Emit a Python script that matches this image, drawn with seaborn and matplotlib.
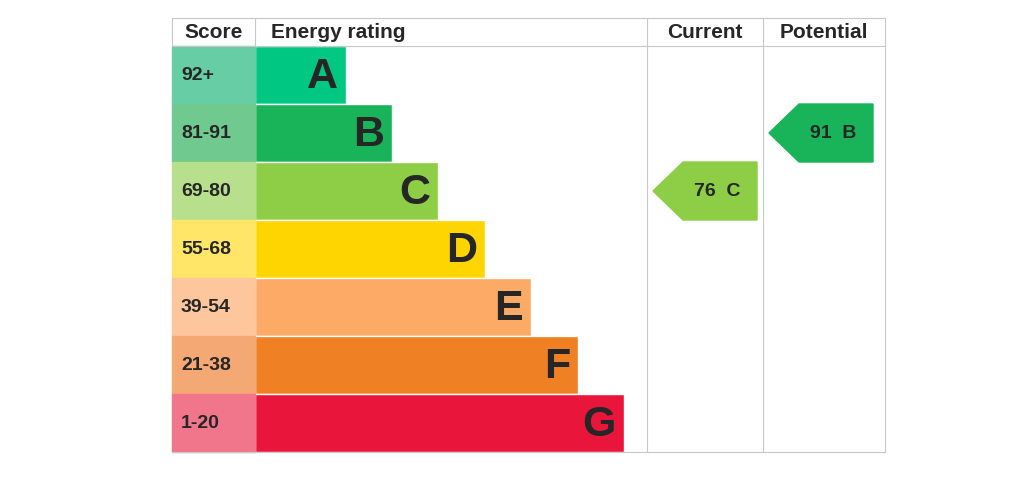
import matplotlib.pyplot as plt
from matplotlib.patches import Polygon, Rectangle
import seaborn as sns

sns.set_style("white")
plt.rcParams['font.family'] = ['Liberation Sans', 'DejaVu Sans']

bands = ["A", "B", "C", "D", "E", "F", "G"]
scores = ["92+", "81-91", "69-80", "55-68", "39-54", "21-38", "1-20"]
bar_colors = ["#00c781", "#19b459", "#8dce46", "#ffd500", "#fcaa65", "#ef8023", "#e9153b"]
score_colors = ["#66cda5", "#70c98e", "#b7df8c", "#ffe669", "#fdc69c", "#f4a874", "#f1768b"]
bar_len = [91, 137, 183, 230, 276, 323, 369]
current = (76, "C")
potential = (91, "B")

fig = plt.figure(figsize=(10.24, 4.82), dpi=100)
ax = fig.add_axes([0, 0, 1, 1])
ax.set_xlim(0, 1024)
ax.set_ylim(482, 0)
ax.axis("off")

top, head, rh = 18, 46, 58
x0, xs, xc, xp, xr = 172, 255, 647, 763, 885
bottom = head + rh * len(bands)
grey = "#c8c8c8"

ax.barh([head + rh * i + rh / 2 for i in range(7)], bar_len, height=rh, left=xs,
        color=bar_colors)
for i, (s, c) in enumerate(zip(scores, score_colors)):
    y = head + rh * i
    ax.add_patch(Rectangle((x0, y), xs - x0, rh, color=c))
    ax.text(x0 + 9, y + rh / 2, s, fontsize=14, fontweight="bold", va="center")
    ax.text(xs + bar_len[i] - 8, y + rh / 2 + 2, bands[i], fontsize=31,
            fontweight="bold", va="center", ha="right")

for x in [xc, xp, xr]:
    ax.plot([x, x], [top, bottom], color=grey, lw=0.8)
ax.plot([x0, xr], [top, top], color=grey, lw=0.8)
ax.plot([x0, xr], [head, head], color=grey, lw=0.8)
ax.plot([x0, xr], [bottom, bottom], color=grey, lw=0.8)
ax.plot([x0, x0], [top, head], color=grey, lw=0.8)
ax.plot([xs, xs], [top, head], color=grey, lw=0.8)

hy = (top + head) / 2 + 1
ax.text((x0 + xs) / 2, hy, "Score", fontsize=15, fontweight="bold", ha="center", va="center")
ax.text(xs + 16, hy, "Energy rating", fontsize=15, fontweight="bold", va="center")
ax.text((xc + xp) / 2, hy, "Current", fontsize=15, fontweight="bold", ha="center", va="center")
ax.text((xp + xr) / 2, hy, "Potential", fontsize=15, fontweight="bold", ha="center", va="center")


def arrow(xl, xrr, val, band):
    i = bands.index(band)
    y = head + rh * i
    pts = [(xl, y + rh / 2), (xl + 30, y), (xrr, y), (xrr, y + rh), (xl + 30, y + rh)]
    ax.add_patch(Polygon(pts, color=bar_colors[i]))
    ax.text((xl + xrr) / 2 + 12, y + rh / 2 + 1, f"{val}  {band}", fontsize=14,
            fontweight="bold", ha="center", va="center")


arrow(653, 757, *current)
arrow(769, 873, *potential)

fig.savefig("out.png", dpi=100)
